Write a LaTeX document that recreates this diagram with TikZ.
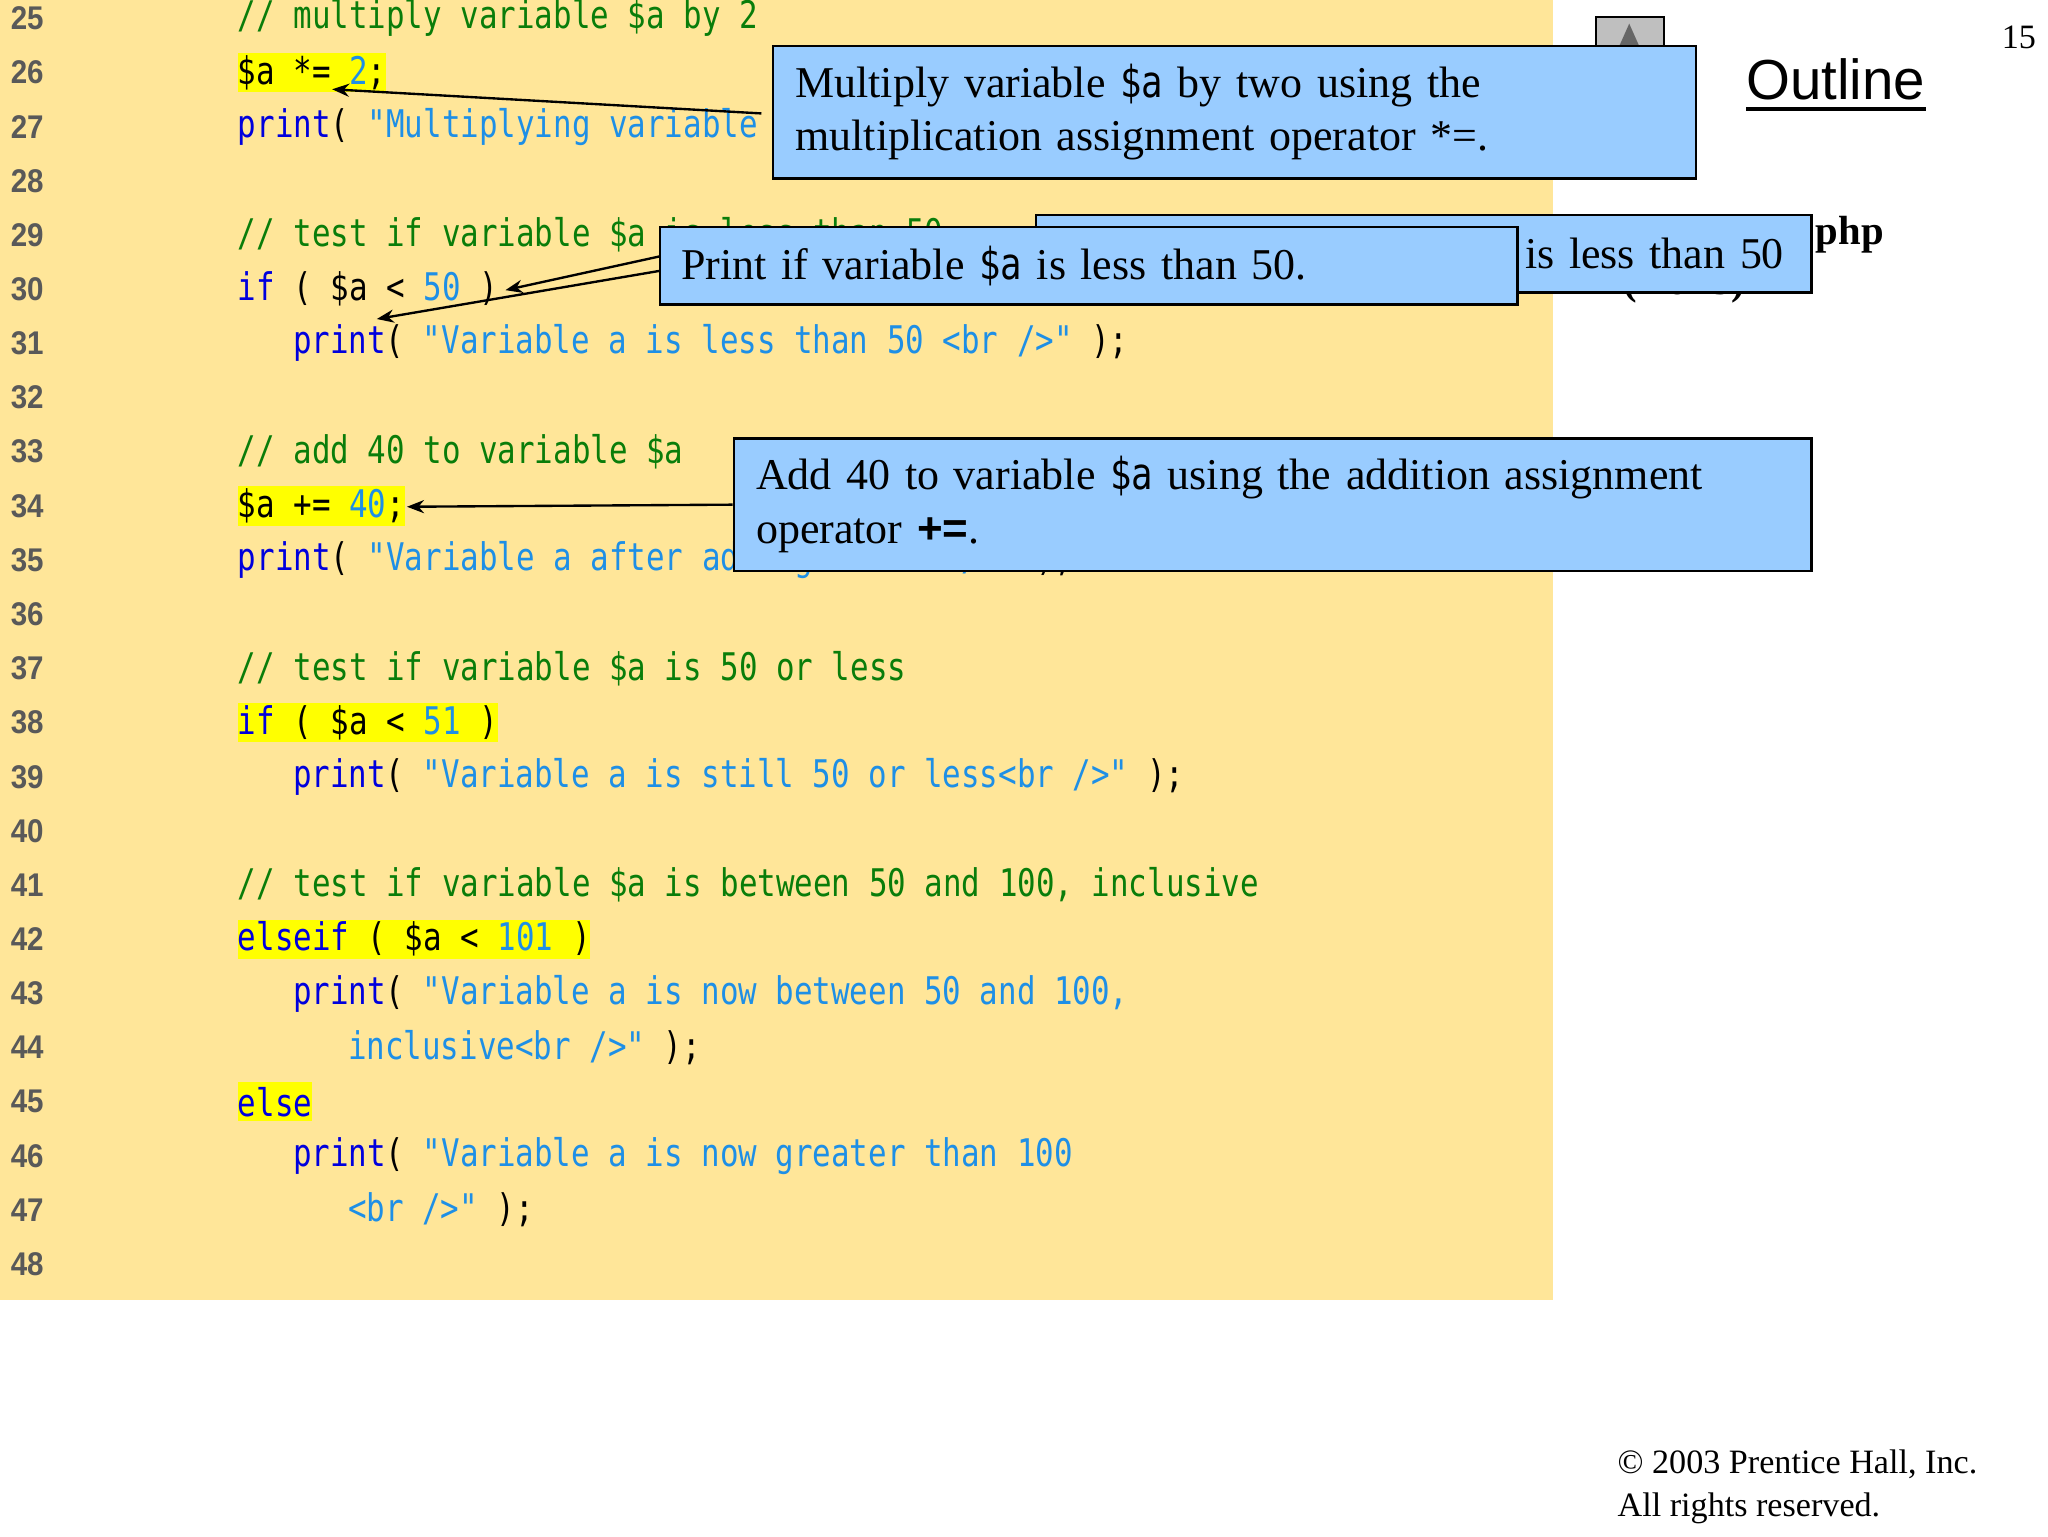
\documentclass[tikz,border=0pt]{standalone}
\usepackage{fontspec}
\setmainfont{Liberation Serif}
\newfontfamily\codef[FakeStretch=0.81]{DejaVu Sans Mono}
\newfontfamily\numf[FakeStretch=0.9]{Liberation Sans}
\newfontfamily\arialf{Liberation Sans}
\usetikzlibrary{arrows.meta}
\definecolor{bgy}{HTML}{FFE699}
\definecolor{hl}{HTML}{FFFF00}
\definecolor{cmt}{HTML}{0A7D0A}
\definecolor{kw}{HTML}{0000DD}
\definecolor{str}{HTML}{1E8FE6}
\definecolor{boxb}{HTML}{99CCFF}
\newcommand{\Cm}[1]{\textcolor{cmt}{#1}}
\newcommand{\Kw}[1]{\textcolor{kw}{#1}}
\newcommand{\St}[1]{\textcolor{str}{#1}}
\tikzset{
  code/.style={anchor=west,inner sep=0pt,font=\codef\fontsize{29}{30}\selectfont},
  lnum/.style={anchor=west,inner sep=0pt,font=\numf\bfseries\fontsize{25}{26}\selectfont,text=black!65},
  callout/.style={draw=black,line width=1.8pt,fill=boxb,anchor=north west,inner sep=0pt,align=left,font=\fontsize{33.5}{41}\selectfont},
  arr/.style={line width=1.8pt,-{Stealth[length=13pt,width=10pt]}},
  hlbox/.style={fill=hl}
}
\newcommand{\LY}[1]{14+(#1-25)*41.26}
\begin{document}
\begin{tikzpicture}[x=1pt,y=-1pt]
\useasboundingbox (0,0) rectangle (1560,1170);
\fill[white] (0,0) rectangle (1560,1170);
\fill[bgy] (0,0) rectangle (1183,990);
% highlights
\foreach \n/\c in {26/8,34/9,38/14,42/19,45/4}
  \fill[hl] (181,{\LY{\n}-15}) rectangle ({181+\c*14.14},{\LY{\n}+15});
% line numbers
\foreach \n in {25,...,48}
  \node[lnum] (n\n) at (8,{\LY{\n}}) {\n};
% code
\node[code] (c25) at (181,{\LY{25}}) {\Cm{// multiply variable \$a by 2}};
\node[code] (c26) at (181,{\LY{26}}) {\$a *= \St{2};};
\node[code] (c27) at (181,{\LY{27}}) {\Kw{print}( \St{"Multiplying variable}};
\node[code] (c29) at (181,{\LY{29}}) {\Cm{// test if variable \$a is less than 50}};
\node[code] (c30) at (181,{\LY{30}}) {\Kw{if} ( \$a < \St{50} )};
\node[code] (c31) at (223,{\LY{31}}) {\Kw{print}( \St{"Variable a is less than 50 <br />"} );};
\node[code] (c33) at (181,{\LY{33}}) {\Cm{// add 40 to variable \$a}};
\node[code] (c34) at (181,{\LY{34}}) {\$a += \St{40};};
\node[code] (c35) at (181,{\LY{35}}) {\Kw{print}( \St{"Variable a after adding 40 <br />"} );};
\node[code] (c37) at (181,{\LY{37}}) {\Cm{// test if variable \$a is 50 or less}};
\node[code] (c38) at (181,{\LY{38}}) {\Kw{if} ( \$a < \St{51} )};
\node[code] (c39) at (223,{\LY{39}}) {\Kw{print}( \St{"Variable a is still 50 or less<br />"} );};
\node[code] (c41) at (181,{\LY{41}}) {\Cm{// test if variable \$a is between 50 and 100, inclusive}};
\node[code] (c42) at (181,{\LY{42}}) {\Kw{elseif} ( \$a < \St{101} )};
\node[code] (c43) at (223,{\LY{43}}) {\Kw{print}( \St{"Variable a is now between 50 and 100,}};
\node[code] (c44) at (265,{\LY{44}}) {\St{inclusive<br />"} );};
\node[code] (c45) at (181,{\LY{45}}) {\Kw{else}};
\node[code] (c46) at (223,{\LY{46}}) {\Kw{print}( \St{"Variable a is now greater than 100}};
\node[code] (c47) at (265,{\LY{47}}) {\St{<br />"} );};
% right side
\node[draw=black,line width=1.5pt,fill=black!25,minimum width=52pt,minimum height=30pt,anchor=north west] (upbtn) at (1215,12) {};
\fill[black!60] (1233,36) -- (1241,18) -- (1249,36) -- cycle;
\node[anchor=base east,inner sep=0pt,font=\fontsize{26}{28}\selectfont] (pg) at (1551,37) {15};
\node[anchor=base west,inner sep=0pt,font=\arialf\fontsize{43}{45}\selectfont] (outl) at (1330,76) {Outline};
\draw[line width=3pt] (1330,83) -- (1467,83);
\node[anchor=base west,inner sep=0pt,font=\bfseries\fontsize{31}{33}\selectfont] (php) at (1383,186) {php};
\node[anchor=base,inner sep=0pt,font=\bfseries\fontsize{31}{33}\selectfont] (pof) at (1283,224) {(2 of 3)};
% callouts
\node[callout,minimum width=703pt,minimum height=101pt,text width=669pt] (b1) at (588,34)
  {Multiply variable {\codef\$a} by two using the\\multiplication assignment operator *=.};
\node[callout,minimum width=591pt,minimum height=59pt,text width=549pt,align=right] (bb) at (788,163)
  {is less than 50};
\node[callout,minimum width=653pt,minimum height=59pt,text width=621pt] (b2) at (502,172)
  {Print if variable {\codef\$a} is less than 50.};
\node[callout,minimum width=821pt,minimum height=101pt,text width=787pt] (b3) at (558,333)
  {Add 40 to variable {\codef\$a} using the addition assignment\\operator {\arialf\bfseries +=}.};
% arrows
\coordinate (t1) at (253,68);
\coordinate (t2) at (385,221);
\coordinate (t3) at (287,243);
\coordinate (t4) at (310,386);
\draw[arr] ([xshift=-8pt,yshift=-1pt]b1.west) -- (t1);
\draw[arr] ([yshift=7pt]b2.west) -- (t2);
\draw[arr] ([yshift=-4pt]b2.west) -- (t3);
\draw[arr] (b3.west) -- (t4);
% copyright
\node[anchor=base west,inner sep=0pt,font=\fontsize{26}{28}\selectfont] (cp1) at (1232,1122) {© 2003 Prentice Hall, Inc.};
\node[anchor=base west,inner sep=0pt,font=\fontsize{26}{28}\selectfont] (cp2) at (1232,1155) {All rights reserved.};
\end{tikzpicture}
\end{document}
